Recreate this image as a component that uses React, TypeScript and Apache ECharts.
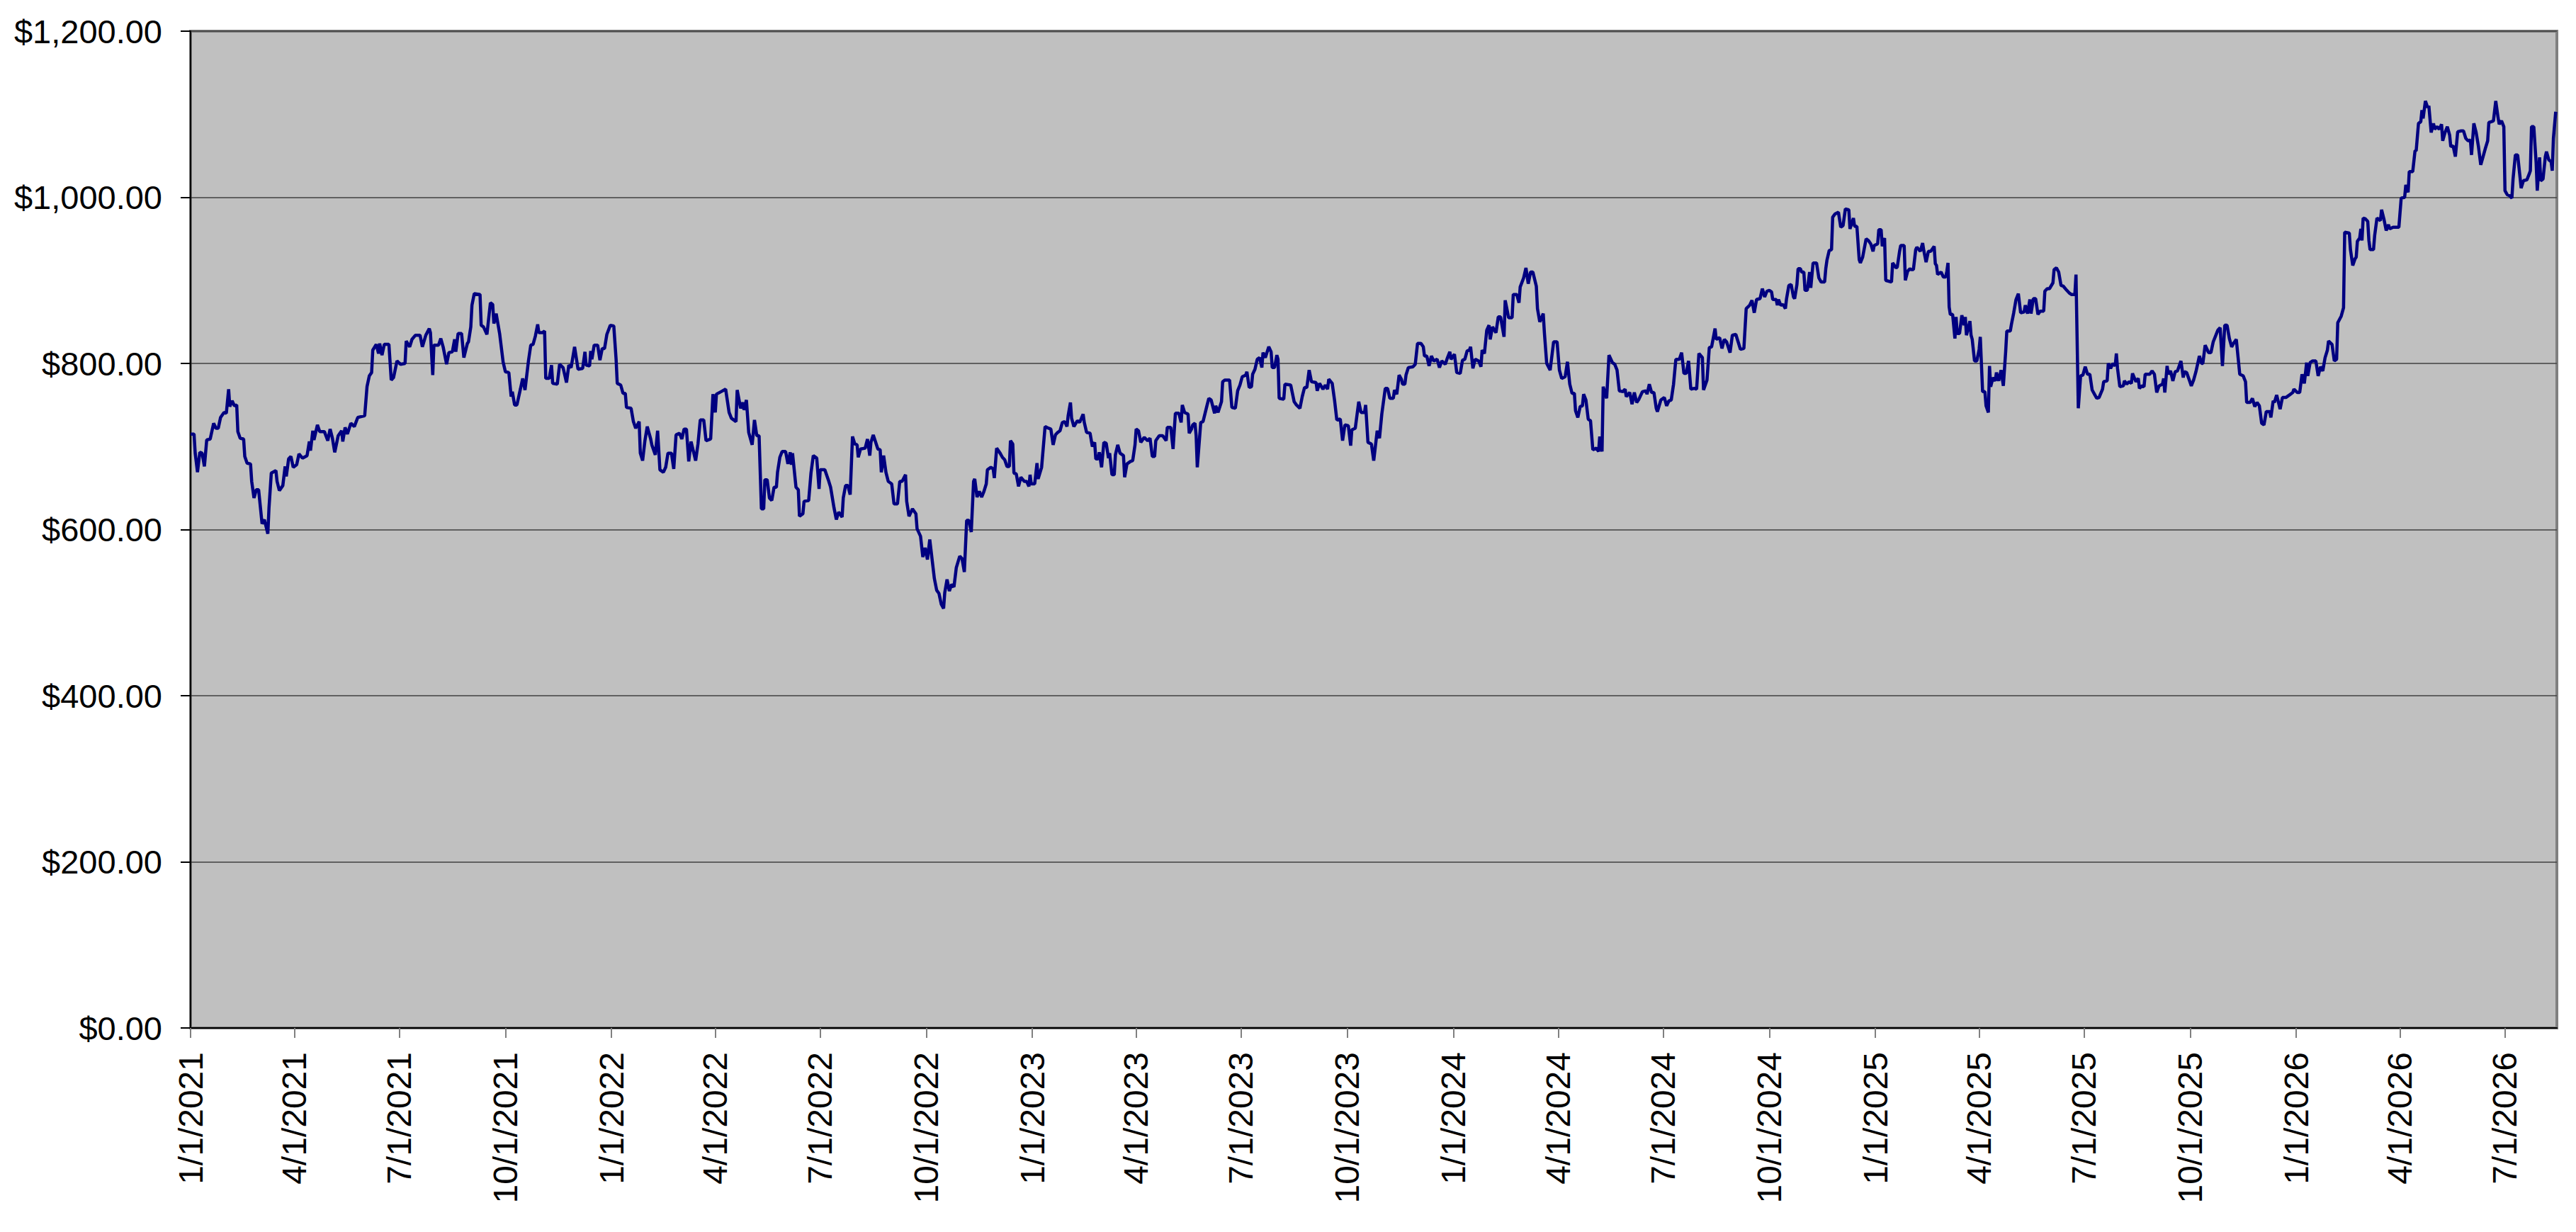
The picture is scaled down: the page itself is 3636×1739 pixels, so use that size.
import React, { useEffect, useRef } from "react";
import * as echarts from "echarts";

// Quarter tick labels shown on the date axis
const quarterLabels = [
  "1/1/2021", "4/1/2021", "7/1/2021", "10/1/2021",
  "1/1/2022", "4/1/2022", "7/1/2022", "10/1/2022",
  "1/1/2023", "4/1/2023", "7/1/2023", "10/1/2023",
  "1/1/2024", "4/1/2024", "7/1/2024", "10/1/2024",
  "1/1/2025", "4/1/2025", "7/1/2025", "10/1/2025",
  "1/1/2026", "4/1/2026", "7/1/2026",
];

// Value axis range
const yMin = 0;
const yMax = 1200;
const yStep = 200;

// First date of the series and the last day (offset) shown on the axis
const startDate = "1/1/2021";
const lastDayOffset = 2052;

// [days since 1/1/2021, price]
const pricePoints: [number, number][] = [
  [0,715],[3,715],[4,692],[6,669],[8,693],[10,692],[12,676],[14,708],[17,709],[20,728],[22,722],[24,722],[26,735],[29,741],[31,740],[33,769],[34,748],[36,755],[38,749],[40,750],[41,718],[43,710],[46,709],[47,688],[49,680],[52,679],[53,658],[55,638],[57,648],[59,648],[62,607],[64,612],[67,595],[68,626],[70,668],[74,671],[75,658],[77,647],[80,653],[82,676],[83,664],[85,685],[87,688],[89,675],[92,678],[94,691],[97,686],[101,689],[103,706],[104,695],[106,719],[107,708],[110,726],[112,718],[116,718],[119,707],[121,721],[123,710],[125,693],[128,713],[131,719],[132,706],[134,723],[136,715],[139,728],[142,724],[145,735],[151,737],[153,772],[155,785],[157,789],[158,816],[161,823],[163,812],[164,824],[166,810],[168,823],[172,823],[174,780],[176,783],[179,803],[182,799],[186,800],[187,827],[190,820],[192,829],[195,834],[199,834],[201,820],[204,834],[207,842],[208,837],[210,786],[211,822],[215,822],[217,830],[219,820],[222,799],[224,813],[227,814],[229,829],[230,814],[232,836],[235,836],[237,807],[240,824],[241,826],[243,844],[244,870],[246,884],[251,883],[252,846],[254,844],[257,835],[260,873],[262,871],[263,848],[265,860],[268,836],[271,802],[273,790],[276,789],[278,760],[279,766],[281,750],[283,750],[286,769],[288,782],[290,768],[293,803],[295,822],[297,823],[299,833],[301,847],[302,837],[305,837],[307,839],[308,782],[311,782],[313,798],[314,776],[318,775],[320,799],[323,795],[326,777],[328,798],[330,795],[333,820],[336,793],[340,794],[342,814],
  [343,798],[346,797],[347,815],[348,805],[350,822],[353,822],[355,804],[357,818],[359,818],[361,835],[364,846],[367,845],[369,805],[370,776],[373,774],[375,764],[377,764],[378,747],[382,746],[384,730],[386,722],[389,730],[390,692],[392,683],[394,707],[396,724],[399,709],[400,702],[403,690],[405,719],[407,672],[410,669],[412,675],[414,692],[417,692],[419,673],[421,714],[424,716],[426,709],[428,721],[430,721],[432,682],[434,706],[438,683],[440,703],[442,732],[445,732],[447,707],[451,709],[453,763],[455,741],[456,763],[460,766],[464,769],[467,741],[469,734],[473,730],[474,768],[477,746],[479,753],[480,744],[482,756],[484,717],[487,702],[489,732],[491,713],[493,713],[495,625],[497,625],[498,660],[500,660],[502,638],[504,635],[506,651],[508,651],[509,669],[511,687],[513,694],[516,694],[518,679],[520,693],[521,678],[522,692],[525,651],[527,648],[528,616],[531,619],[532,634],[536,635],[538,668],[540,689],[543,686],[545,649],[546,672],[550,672],[553,660],[555,651],[558,626],[560,612],[562,621],[565,615],[566,638],[568,653],[570,653],[572,642],[574,712],[576,703],[578,702],[579,687],[581,697],[585,698],[587,709],[589,689],[590,705],[592,714],[596,697],[598,696],[599,669],[601,689],[603,669],[605,658],[608,655],[610,631],[613,631],[615,658],[617,658],[620,666],[621,634],[623,616],[626,625],[629,619],[630,601],[633,592],[635,567],[637,578],[639,564],[641,588],[645,541],[647,527],[649,523],[651,510],[653,505],[654,524],[656,540],[658,526],[660,534],[662,531],[664,554],[667,568],[669,565],[671,549],[673,611],[675,611],[677,597],[679,658],[680,661],[682,639],[684,646],
  [686,639],[688,646],[690,655],[691,672],[694,675],[696,673],[697,662],[698,680],[699,698],[702,692],[704,687],[706,684],[708,676],[710,676],[711,707],[713,703],[714,668],[716,667],[718,652],[720,663],[723,658],[725,658],[727,652],[728,666],[729,655],[732,655],[734,680],[735,661],[738,675],[741,724],[744,722],[746,721],[748,702],[750,714],[752,717],[754,719],[756,729],[758,730],[760,724],[761,737],[763,753],[764,734],[766,724],[769,731],[771,729],[774,739],[775,729],[777,717],[780,716],[782,700],[784,705],[785,685],[787,685],[788,693],[790,675],[792,705],[794,704],[796,686],[797,692],[799,666],[801,666],[802,690],[804,702],[806,692],[809,689],[810,663],[812,679],[815,682],[817,683],[819,702],[820,721],[822,719],[824,705],[827,711],[830,707],[832,710],[834,688],[836,688],[837,707],[840,713],[843,713],[846,707],[847,723],[850,723],[852,697],[854,740],[857,740],[859,729],[860,750],[862,741],[865,739],[866,716],[868,721],[869,726],[871,728],[872,713],[873,675],[876,729],[878,730],[881,747],[883,758],[885,756],[888,740],[889,749],[891,741],[894,754],[895,778],[897,780],[901,780],[903,747],[906,746],[908,767],[910,774],[912,784],[915,786],[916,790],[918,771],[920,772],[921,787],[923,793],[925,805],[927,807],[929,795],[930,813],[932,807],[935,820],[937,814],[938,795],[940,795],[942,810],[943,805],[944,758],[948,757],[949,775],[954,774],[957,754],[959,750],[962,746],[964,760],[966,771],[968,771],[970,792],[972,778],[976,777],[977,767],[979,776],[982,769],[984,774],[986,769],[987,781],[990,776],[992,756],[994,732],[997,733],[999,707],[1001,726],[1004,725],[1006,701],[1007,720],[1010,722],[1013,754],[1015,741],[1018,741],[1019,750],[1021,705],[1024,703],[1026,683],
  [1029,719],[1031,710],[1033,739],[1036,770],[1038,770],[1040,758],[1043,758],[1044,768],[1046,763],[1048,786],[1050,781],[1051,775],[1053,775],[1054,786],[1056,795],[1060,796],[1062,799],[1064,824],[1067,824],[1069,820],[1070,809],[1072,809],[1074,797],[1076,809],[1078,803],[1081,805],[1083,795],[1085,803],[1088,799],[1090,807],[1092,814],[1093,805],[1096,811],[1098,789],[1101,788],[1103,804],[1105,805],[1107,815],[1109,816],[1110,820],[1112,794],[1114,805],[1117,803],[1119,796],[1120,816],[1122,812],[1124,840],[1126,846],[1127,829],[1129,844],[1132,837],[1134,856],[1136,856],[1139,832],[1140,876],[1143,855],[1146,855],[1147,883],[1150,883],[1152,873],[1153,892],[1156,903],[1158,915],[1160,896],[1162,910],[1164,910],[1167,893],[1168,866],[1170,850],[1173,860],[1174,837],[1176,800],[1179,792],[1182,826],[1185,826],[1187,792],[1189,782],[1192,784],[1194,802],[1196,775],[1198,764],[1200,764],[1201,743],[1203,735],[1205,748],[1207,749],[1208,763],[1210,756],[1212,733],[1214,731],[1216,696],[1219,698],[1221,694],[1222,712],[1224,694],[1225,772],[1228,758],[1230,810],[1233,801],[1235,799],[1237,792],[1239,767],[1242,766],[1244,769],[1245,760],[1248,765],[1250,751],[1252,765],[1254,753],[1256,757],[1259,766],[1262,767],[1263,763],[1265,775],[1267,765],[1269,765],[1271,746],[1272,742],[1275,756],[1278,759],[1280,749],[1282,755],[1284,756],[1286,775],[1288,805],[1291,805],[1293,813],[1295,788],[1297,788],[1299,803],[1301,769],[1304,770],[1306,769],[1308,812],[1311,807],[1312,768],[1315,780],[1317,819],[1319,820],[1322,842],[1323,829],[1326,831],[1328,818],[1330,829],[1332,826],[1335,813],[1337,834],[1340,835],[1342,826],[1344,817],[1347,818],[1349,866],[1352,870],[1354,876],[1356,861],[1358,877],[1361,878],[1363,890],[1365,880],[1367,887],[1369,888],
  [1371,886],[1372,877],[1375,877],[1376,870],[1377,877],[1379,870],[1381,871],[1383,866],[1384,878],[1386,894],[1388,895],[1390,880],[1391,878],[1393,895],[1394,914],[1396,914],[1397,910],[1399,910],[1400,888],[1402,888],[1404,910],[1405,891],[1407,921],[1410,921],[1412,903],[1414,898],[1417,898],[1418,914],[1419,924],[1421,936],[1423,937],[1424,976],[1426,980],[1429,982],[1431,964],[1433,966],[1435,986],[1438,985],[1439,962],[1442,975],[1443,965],[1445,965],[1447,925],[1448,921],[1450,928],[1453,950],[1455,948],[1457,944],[1459,935],[1460,942],[1463,944],[1464,961],[1466,961],[1467,941],[1469,951],[1470,900],[1475,898],[1476,921],[1479,915],[1480,916],[1482,935],[1483,942],[1486,942],[1487,900],[1489,911],[1491,914],[1492,913],[1494,913],[1496,937],[1497,940],[1500,935],[1502,945],[1503,936],[1505,922],[1507,935],[1509,935],[1512,941],[1513,920],[1514,918],[1515,907],[1518,910],[1520,904],[1522,904],[1523,911],[1524,921],[1525,868],[1526,859],[1528,859],[1530,830],[1531,856],[1532,836],[1534,836],[1536,858],[1538,846],[1539,856],[1540,834],[1543,851],[1544,834],[1545,829],[1547,803],[1549,803],[1551,817],[1552,832],[1554,766],[1556,766],[1557,749],[1559,741],[1560,797],[1561,772],[1563,783],[1565,779],[1566,789],[1568,779],[1570,792],[1572,773],[1574,814],[1575,839],[1578,839],[1579,847],[1581,861],[1583,877],[1585,884],[1587,861],[1590,862],[1591,870],[1593,860],[1595,877],[1596,860],[1598,878],[1600,878],[1602,859],[1604,863],[1607,863],[1608,887],[1610,890],[1612,890],[1615,897],[1616,913],[1618,915],[1620,910],[1622,894],[1624,893],[1627,888],[1629,885],[1631,883],[1634,883],[1635,907],[1637,746],[1639,785],[1641,786],[1643,796],[1645,787],[1647,787],[1649,768],[1651,763],[1653,758],[1655,759],[1658,769],[1659,778],[1662,779],[1663,800],[1665,794],[1667,800],[1669,797],[1670,812],[1671,794],[1673,772],[1676,773],[1677,779],[1679,775],[1681,778],[1683,776],[1684,788],[1687,778],[1689,782],[1690,770],[1692,773],[1694,772],[1695,787],[1699,787],[1701,791],[1703,787],[1705,765],[1707,773],[1710,775],[1711,782],
  [1712,765],[1714,797],[1715,787],[1717,791],[1719,779],[1721,790],[1723,791],[1726,803],[1728,783],[1729,790],[1731,789],[1733,781],[1735,773],[1737,780],[1739,790],[1742,809],[1744,800],[1745,800],[1747,822],[1750,813],[1752,813],[1754,826],[1756,833],[1758,840],[1760,843],[1762,797],[1764,846],[1766,846],[1768,830],[1770,820],[1772,825],[1774,829],[1777,787],[1780,785],[1782,778],[1783,753],[1786,753],[1788,758],[1790,748],[1792,753],[1794,749],[1796,728],[1798,726],[1800,742],[1803,742],[1804,735],[1806,755],[1807,753],[1809,762],[1812,745],[1814,759],[1817,759],[1820,762],[1823,765],[1824,769],[1827,765],[1829,765],[1831,787],[1833,776],[1835,801],[1836,785],[1838,801],[1840,803],[1843,803],[1845,785],[1847,796],[1849,791],[1851,807],[1853,816],[1854,827],[1857,823],[1859,803],[1861,805],[1862,849],[1865,857],[1867,867],[1868,958],[1872,957],[1873,937],[1875,918],[1877,926],[1878,928],[1879,947],[1881,951],[1882,962],[1883,948],[1884,975],[1886,974],[1888,971],[1889,948],[1890,937],[1893,937],[1894,954],[1896,975],[1899,972],[1900,985],[1902,974],[1904,960],[1906,967],[1907,962],[1910,964],[1913,964],[1915,964],[1917,999],[1920,1000],[1921,1015],[1923,1006],[1924,1031],[1927,1031],[1929,1056],[1930,1056],[1932,1089],[1934,1091],[1935,1105],[1936,1095],[1938,1116],[1940,1108],[1941,1110],[1943,1078],[1945,1089],[1946,1082],[1948,1085],[1950,1082],[1952,1088],[1953,1068],[1955,1078],[1957,1085],[1959,1075],[1960,1061],[1962,1062],[1964,1049],[1966,1079],[1969,1080],[1971,1080],[1973,1071],[1975,1068],[1977,1069],[1978,1051],[1980,1089],[1982,1078],[1984,1061],[1986,1039],[1988,1049],[1990,1059],[1992,1068],[1993,1090],[1995,1091],[1997,1092],[1999,1116],[2001,1096],[2002,1088],[2004,1092],[2006,1085],[2007,1008],[2009,1003],[2011,1002],[2013,999],[2014,1022],[2016,1051],[2018,1051],[2020,1025],[2021,1011],[2023,1020],[2026,1021],[2028,1028],[2029,1032],[2030,1085],[2032,1085],[2034,1042],[2035,1008],[2037,1048],[2038,1020],[2040,1022],[2042,1049],[2043,1055],[2045,1045],[2047,1043],[2048,1032],[2049,1071],[2051,1103],
];

const DAY_MS = 86400000;
const FONT = '"Liberation Sans", Arial, Helvetica, sans-serif';

function parseUSDate(s: string): number {
  const [m, d, y] = s.split("/").map(Number);
  return Date.UTC(y, m - 1, d);
}

function formatUSDate(ts: number): string {
  const dt = new Date(ts);
  return `${dt.getUTCMonth() + 1}/${dt.getUTCDate()}/${dt.getUTCFullYear()}`;
}

function formatMoney(v: number): string {
  return "$" + v.toLocaleString("en-US", { minimumFractionDigits: 2, maximumFractionDigits: 2 });
}

export default function App() {
  const ref = useRef<HTMLDivElement>(null);

  useEffect(() => {
    if (!ref.current) return;
    const chart = echarts.init(ref.current, undefined, { renderer: "svg" });
    const start = parseUSDate(startDate);
    // x positions are day offsets from the start date
    const quarterDays = quarterLabels.map((s) => Math.round((parseUSDate(s) - start) / DAY_MS));

    chart.setOption({
      animation: false,
      backgroundColor: "#ffffff",
      grid: {
        left: 269,
        top: 44,
        width: 3340,
        height: 1407,
        show: true,
        backgroundColor: "#C0C0C0",
        borderColor: "#808080",
        borderWidth: 4,
        containLabel: false,
      },
      xAxis: {
        type: "value",
        min: 0,
        max: lastDayOffset,
        splitLine: { show: false },
        minorTick: { show: false },
        axisLine: { show: true, onZero: false, lineStyle: { color: "#000000", width: 2 } },
        axisTick: {
          show: true,
          customValues: quarterDays,
          length: 14,
          lineStyle: { color: "#808080", width: 2 },
        },
        axisLabel: {
          customValues: quarterDays,
          rotate: 90,
          margin: 34,
          fontSize: 48,
          fontFamily: FONT,
          color: "#000000",
          showMinLabel: true,
          showMaxLabel: true,
          formatter: (v: number) => formatUSDate(start + v * DAY_MS),
        },
      },
      yAxis: {
        type: "value",
        min: yMin,
        max: yMax,
        interval: yStep,
        axisLine: { show: true, lineStyle: { color: "#000000", width: 2 } },
        axisTick: { show: true, length: 14, lineStyle: { color: "#000000", width: 2 } },
        axisLabel: {
          margin: 40,
          fontSize: 47,
          fontFamily: FONT,
          color: "#000000",
          formatter: (v: number) => formatMoney(v),
        },
        splitLine: { show: true, lineStyle: { color: "#404040", width: 1.5 } },
      },
      series: [
        {
          type: "line",
          data: pricePoints,
          showSymbol: false,
          symbol: "none",
          smooth: false,
          lineStyle: { color: "#000080", width: 4.5 },
          itemStyle: { color: "#000080" },
        },
      ],
    });

    return () => chart.dispose();
  }, []);

  return (
    <div
      ref={ref}
      style={{ position: "absolute", left: 0, top: 0, width: 3636, height: 1739, background: "#ffffff" }}
    />
  );
}
